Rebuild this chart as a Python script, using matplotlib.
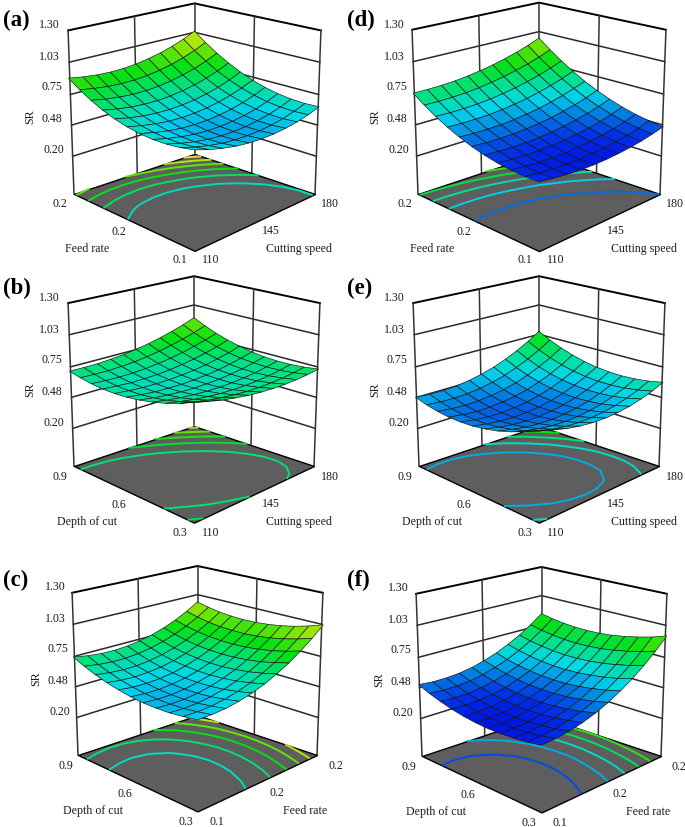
import matplotlib
matplotlib.use("Agg")
import numpy as np
import matplotlib.pyplot as plt
from matplotlib.colors import LinearSegmentedColormap, Normalize
from mpl_toolkits.mplot3d import proj3d
from mpl_toolkits.mplot3d.art3d import Poly3DCollection

speed = [110, 117, 124, 131, 138, 145, 152, 159, 166, 173, 180]
feed = [0.10, 0.11, 0.12, 0.13, 0.14, 0.15, 0.16, 0.17, 0.18, 0.19, 0.20]
depth = [0.30, 0.36, 0.42, 0.48, 0.54, 0.60, 0.66, 0.72, 0.78, 0.84, 0.90]
sr_ticks = [0.20, 0.48, 0.75, 1.03, 1.30]
sr_floor = -0.146

# SR, rows follow the right hand axis, columns the left hand one
z_a = [[.621,.602,.594,.595,.607,.628,.660,.701,.753,.814,.886],
       [.587,.570,.564,.567,.581,.604,.637,.681,.734,.798,.871],
       [.561,.546,.541,.547,.562,.587,.622,.667,.723,.788,.863],
       [.542,.529,.526,.533,.550,.577,.615,.662,.719,.786,.863],
       [.532,.521,.520,.529,.548,.576,.615,.664,.723,.792,.871],
       [.530,.521,.522,.532,.553,.584,.625,.676,.736,.807,.888],
       [.536,.529,.531,.544,.567,.599,.642,.695,.758,.830,.913],
       [.550,.544,.549,.563,.588,.622,.667,.721,.786,.860,.945],
       [.571,.567,.574,.590,.617,.653,.699,.756,.822,.899,.985],
       [.601,.599,.607,.626,.654,.692,.740,.798,.867,.945,1.033],
       [.639,.639,.649,.669,.699,.739,.790,.850,.920,1.000,1.090]]
z_b = [[.767,.727,.694,.670,.653,.643,.641,.646,.660,.681,.709],
       [.741,.704,.674,.652,.638,.631,.633,.641,.657,.681,.712],
       [.719,.685,.658,.639,.628,.623,.627,.638,.657,.684,.718],
       [.703,.672,.648,.631,.623,.622,.629,.643,.664,.694,.731],
       [.691,.663,.641,.628,.622,.624,.634,.650,.675,.707,.747],
       [.685,.659,.641,.630,.628,.632,.645,.664,.692,.727,.770],
       [.683,.660,.645,.637,.638,.645,.660,.683,.713,.752,.797],
       [.687,.667,.654,.650,.653,.663,.681,.706,.740,.781,.829],
       [.695,.678,.668,.666,.672,.685,.707,.735,.771,.815,.866],
       [.709,.695,.688,.689,.698,.713,.737,.768,.807,.854,.908],
       [.727,.716,.712,.715,.727,.746,.773,.807,.848,.898,.955]]
z_c = [[.557,.544,.536,.537,.544,.559,.582,.610,.646,.689,.740],
       [.559,.544,.534,.533,.539,.551,.572,.599,.633,.674,.723],
       [.570,.553,.542,.538,.542,.553,.572,.597,.628,.668,.715],
       [.592,.573,.560,.554,.556,.565,.582,.605,.634,.672,.717],
       [.623,.602,.587,.580,.580,.586,.601,.622,.650,.686,.729],
       [.664,.641,.624,.615,.613,.618,.631,.650,.676,.710,.751],
       [.715,.690,.671,.660,.656,.659,.671,.688,.712,.744,.783],
       [.775,.748,.727,.715,.709,.710,.719,.734,.757,.787,.824],
       [.846,.817,.794,.780,.772,.771,.778,.791,.812,.840,.875],
       [.926,.895,.871,.854,.844,.841,.847,.858,.876,.903,.936],
       [1.016,.983,.957,.938,.927,.922,.925,.935,.951,.976,1.007]]
z_d = [[.379,.380,.390,.407,.433,.466,.508,.557,.615,.680,.754],
       [.365,.368,.380,.399,.426,.461,.505,.556,.615,.683,.758],
       [.356,.361,.374,.395,.424,.462,.507,.560,.621,.690,.767],
       [.351,.358,.373,.396,.427,.466,.512,.567,.630,.701,.780],
       [.352,.361,.377,.402,.435,.476,.524,.581,.646,.718,.799],
       [.358,.369,.387,.414,.448,.491,.541,.600,.666,.741,.823],
       [.369,.381,.401,.430,.466,.510,.562,.622,.691,.767,.851],
       [.385,.399,.421,.451,.489,.535,.589,.651,.721,.799,.885],
       [.405,.421,.445,.476,.516,.564,.620,.684,.755,.835,.923],
       [.431,.449,.474,.508,.549,.599,.657,.722,.796,.877,.967],
       [.462,.481,.509,.544,.588,.639,.698,.766,.841,.925,1.016]]
z_e = [[.560,.511,.472,.441,.420,.407,.404,.409,.424,.447,.480],
       [.525,.479,.443,.415,.397,.386,.386,.395,.412,.439,.474],
       [.498,.455,.422,.397,.381,.374,.377,.388,.408,.438,.476],
       [.481,.441,.410,.389,.376,.372,.377,.392,.415,.447,.488],
       [.473,.436,.408,.389,.379,.379,.387,.404,.430,.465,.509],
       [.474,.440,.415,.399,.392,.394,.404,.424,.453,.491,.538],
       [.483,.452,.430,.417,.412,.417,.431,.454,.485,.526,.576],
       [.502,.474,.454,.444,.443,.450,.467,.493,.528,.571,.624],
       [.530,.505,.488,.481,.482,.493,.513,.541,.579,.625,.681],
       [.566,.544,.530,.526,.530,.544,.566,.597,.638,.687,.746],
       [.612,.592,.582,.580,.588,.604,.629,.664,.707,.759,.821]]
z_f = [[.371,.353,.344,.340,.343,.353,.370,.394,.425,.461,.506],
       [.380,.361,.350,.345,.346,.354,.369,.392,.421,.456,.499],
       [.400,.379,.367,.360,.359,.366,.380,.401,.428,.462,.503],
       [.430,.408,.393,.385,.382,.388,.400,.419,.445,.476,.516],
       [.470,.446,.430,.420,.416,.420,.430,.448,.472,.502,.540],
       [.521,.495,.478,.466,.461,.463,.471,.488,.510,.539,.575],
       [.582,.555,.536,.522,.515,.516,.523,.538,.558,.585,.620],
       [.653,.624,.603,.589,.580,.579,.584,.597,.617,.642,.675],
       [.735,.704,.682,.665,.655,.652,.656,.667,.685,.708,.740],
       [.827,.795,.771,.753,.741,.736,.738,.748,.764,.786,.816],
       [.930,.896,.871,.851,.837,.831,.832,.840,.854,.875,.903]]

levels_a = [.63, .71, .79, .87, .95, 1.03]
levels_b = [.69, .75, .81, .87, .93]
levels_c = [.61, .695, .78, .865, .95]
levels_d = [.46, .56, .65, .74, .83]
levels_e = [.455, .54, .625, .71, .795]
levels_f = [.427, .525, .62, .72, .82]

W, H = 685, 828
# the original box is not one true perspective: walls, floor and surface get their own camera
CAM_WALLS = (18, 0.7, 0.985)
CAM_FLOOR = (16, 0.42, 0.97)
CAM_SURFACE = (16.5, 0.48, 0.98)

low, high = 0.30, 1.15
stops = [(.30, (0, 0, 225)), (.40, (0, 50, 230)), (.47, (0, 120, 225)), (.57, (0, 215, 235)),
         (.67, (0, 225, 140)), (.78, (0, 225, 20)), (.90, (130, 230, 0)), (1.0, (215, 235, 30)),
         (1.1, (235, 205, 90)), (1.15, (235, 195, 100))]
cmap = LinearSegmentedColormap.from_list(
    "sr", [((v - low) / (high - low), tuple(c / 255 for c in rgb)) for v, rgb in stops])

fig = plt.figure(figsize=(W / 100, H / 100), dpi=100)
plt.rcParams["font.family"] = ["Liberation Serif", "DejaVu Serif"]


def put(x, y, s, **kw):
    kw.setdefault("fontsize", 8.6)
    kw.setdefault("color", "#1c1c1c")
    kw.setdefault("ha", "center")
    kw.setdefault("va", "center")
    fig.text(x / W, 1 - y / H, s, **kw)


def pixel(ax, x, y, z):
    xs, ys, _ = proj3d.proj_transform(x, y, z, ax.get_proj())
    return ax.transData.transform((xs, ys))


def new_axes(cam):
    ax = fig.add_axes([0.2, 0.2, 0.4, 0.4], projection="3d", computed_zorder=False)
    ax.set_proj_type("persp", focal_length=cam[1])
    ax.view_init(elev=cam[0], azim=-135)
    ax.set_box_aspect((1, 1, cam[2]))
    ax.set_axis_off()
    ax.patch.set_alpha(0)
    return ax


def fit(ax, xv, yv, left, right):
    # scale and move the axes so the floor lands on the corners
    ax.set_xlim(xv[0], xv[-1])
    ax.set_ylim(yv[0], yv[-1])
    ax.set_zlim(sr_floor, 1.30)
    size = 300
    ax.set_position([0.2, 0.2, size / W, size / H])
    ax.apply_aspect()
    a, b = pixel(ax, xv[0], yv[-1], sr_floor), pixel(ax, xv[-1], yv[0], sr_floor)
    size = size * (right[0] - left[0]) / (b[0] - a[0])
    ax.set_position([0.2, 0.2, size / W, size / H])
    ax.apply_aspect()
    a, b = pixel(ax, xv[0], yv[-1], sr_floor), pixel(ax, xv[-1], yv[0], sr_floor)
    dx = (left[0] + right[0]) / 2 - (a[0] + b[0]) / 2
    dy = (H - left[1]) - a[1]
    ax.set_position([0.2 + dx / W, 0.2 + dy / H, size / W, size / H])


def panel(zs, xv, yv, levels, left, right, front, ylabels, xlabels, ylabel, xlabel, letter, letter_x, letter_y,
          shift=0.0):
    X, Y = np.meshgrid(xv, yv, indexing="ij")
    Z = np.array(zs)
    x0, x1 = xv[0], xv[-1]
    y0, y1 = yv[0], yv[-1]
    xm = (x0 + x1) / 2
    ym = (y0 + y1) / 2
    norm = Normalize(low + shift, high + shift)

    # walls
    ax = new_axes(CAM_WALLS)
    for t in sr_ticks[:-1]:
        ax.plot3D([x0, x1, x1], [y1, y1, y0], [t, t, t], color="#2a2a2a", lw=1.1)
    ax.plot3D([x0, x1, x1], [y1, y1, y0], [1.30, 1.30, 1.30], color="k", lw=1.4)
    for px_, py_ in [(x0, y1), (x1, y1), (x1, y0), (xm, y1), (x1, ym)]:
        ax.plot3D([px_, px_], [py_, py_], [sr_floor, 1.30], color="#333333", lw=1.1)
    fit(ax, xv, yv, left, right)

    # floor with its contours
    ax = new_axes(CAM_FLOOR)
    floor = Poly3DCollection([[(x0, y0, sr_floor), (x1, y0, sr_floor), (x1, y1, sr_floor), (x0, y1, sr_floor)]],
                             facecolor="#5e5e5e", edgecolor="k", linewidth=1.0, zorder=2)
    ax.add_collection3d(floor)
    ax.contour(X, Y, Z, levels=levels, zdir="z", offset=sr_floor, cmap=cmap, norm=norm,
               linewidths=1.4, zorder=3)
    fit(ax, xv, yv, left, right)

    # response surface
    ax = new_axes(CAM_SURFACE)
    ax.plot_surface(X, Y, Z, rstride=1, cstride=1, facecolors=cmap(norm(Z)), shade=False,
                    edgecolor="#151515", linewidth=0.45, antialiased=True)
    fit(ax, xv, yv, left, right)

    fx, fy = front
    for (dx, dy), s in zip([(-139, -102), (-141, -133), (-141, -165), (-144, -195), (-144, -227)], sr_ticks):
        put(fx + dx, fy + dy, f"{s:.2f}")
    put(fx - 163, fy - 135, "SR", rotation=90)
    put(fx - 133, fy - 48, ylabels[2])
    put(fx - 74, fy - 20, ylabels[1])
    put(fx - 13, fy + 8, ylabels[0])
    put(fx + 18, fy + 8, xlabels[0])
    put(fx + 78, fy - 21, xlabels[1])
    put(fx + 137, fy - 48, xlabels[2])
    put(fx - 106, fy - 3, ylabel)
    put(fx + 106, fy - 3, xlabel)
    put(letter_x, letter_y, letter, fontsize=16.5, fontweight="bold", color="k", ha="left")


speed_t = ["110", "145", "180"]
feed_t = ["0.1", "0.2", "0.2"]
depth_t = ["0.3", "0.6", "0.9"]

panel(z_a, speed, feed, levels_a, (74, 195), (315, 195), (193, 252), feed_t, speed_t, "Feed rate", "Cutting speed", "(a)", 3, 20)
panel(z_b, speed, depth, levels_b, (74, 467), (314, 467), (193, 525), depth_t, speed_t, "Depth of cut", "Cutting speed", "(b)", 3, 288)
panel(z_c, feed, depth, levels_c, (78, 756), (317, 756), (199, 814), depth_t, feed_t, "Depth of cut", "Feed rate", "(c)", 3, 580)
panel(z_d, speed, feed, levels_d, (418, 195), (660, 195), (538, 252), feed_t, speed_t, "Feed rate", "Cutting speed", "(d)", 347, 20)
panel(z_e, speed, depth, levels_e, (419, 467), (659, 467), (538, 525), depth_t, speed_t, "Depth of cut", "Cutting speed", "(e)", 347, 288, shift=-0.07)
panel(z_f, feed, depth, levels_f, (422, 757), (661, 757), (542, 815), depth_t, feed_t, "Depth of cut", "Feed rate", "(f)", 347, 580)

fig.savefig("out.png", dpi=100)
